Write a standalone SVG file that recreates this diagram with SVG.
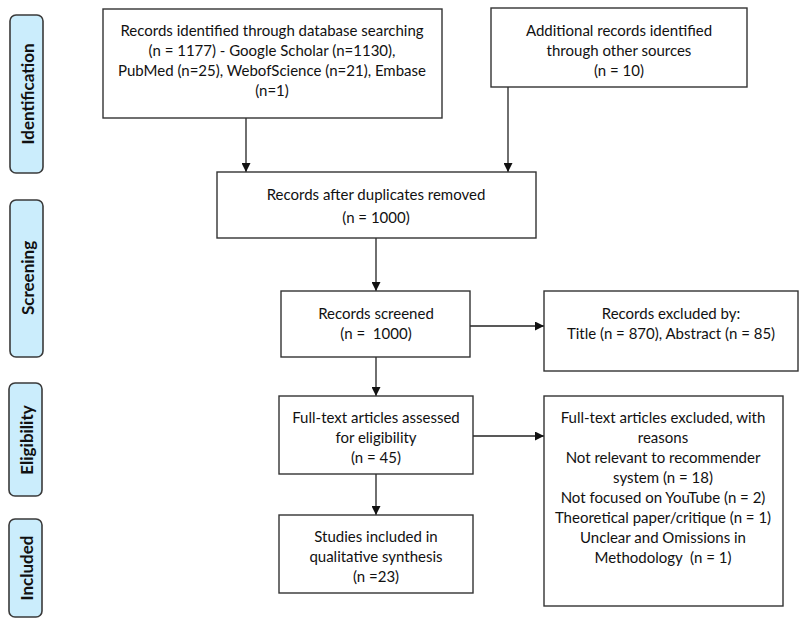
<svg xmlns="http://www.w3.org/2000/svg" width="800" height="634" viewBox="0 0 800 634">
<style>
.bg{fill:#ffffff}
.stage rect{fill:#cbedfc;stroke:#3a3a3a;stroke-width:1.6}
.stage text{font-family:Lato,"Liberation Sans",sans-serif;font-size:17px;font-weight:bold;fill:#111;text-anchor:middle;dominant-baseline:central}
.box rect{fill:#ffffff;stroke:#333;stroke-width:1.4}
.box text{font-family:Lato,"Liberation Sans",sans-serif;font-size:15px;fill:#111;text-anchor:middle;dominant-baseline:central;white-space:pre}
#connectors line{stroke:#222;stroke-width:1.3;fill:none}
</style>
<defs>
<marker id="ah" viewBox="0 0 10 10" refX="10" refY="5" markerWidth="9" markerHeight="9" markerUnits="userSpaceOnUse" orient="auto">
<path d="M0,0 L10,5 L0,10 Z" fill="#111"/>
</marker>
</defs>
<rect class="bg" x="0" y="0" width="800" height="634"/>

<g id="stage-identification" class="stage"><rect x="10" y="15" width="33" height="158" rx="6"/><text transform="translate(27,94) rotate(-90)">Identification</text></g>
<g id="stage-screening" class="stage"><rect x="10" y="200" width="33" height="157" rx="6"/><text transform="translate(27,278) rotate(-90)">Screening</text></g>
<g id="stage-eligibility" class="stage"><rect x="9" y="383" width="33" height="113" rx="6"/><text transform="translate(26,440) rotate(-90)">Eligibility</text></g>
<g id="stage-included" class="stage"><rect x="9" y="519" width="33" height="98" rx="6"/><text transform="translate(26,568) rotate(-90)">Included</text></g>

<g id="connectors">
<line x1="246" y1="118" x2="246" y2="172" marker-end="url(#ah)"/>
<line x1="508" y1="87" x2="508" y2="172" marker-end="url(#ah)"/>
<line x1="376" y1="238" x2="376" y2="291" marker-end="url(#ah)"/>
<line x1="470" y1="326" x2="544" y2="326" marker-end="url(#ah)"/>
<line x1="376" y1="357" x2="376" y2="396" marker-end="url(#ah)"/>
<line x1="473" y1="436" x2="544" y2="436" marker-end="url(#ah)"/>
<line x1="376" y1="474" x2="376" y2="515" marker-end="url(#ah)"/>
</g>

<g id="n-database" class="box"><rect x="103" y="9" width="339" height="109"/>
<text x="272" y="30">Records identified through database searching</text>
<text x="272" y="50">(n = 1177) - Google Scholar (n=1130),</text>
<text x="272" y="70">PubMed (n=25), WebofScience (n=21), Embase</text>
<text x="272" y="90">(n=1)</text></g>

<g id="n-other" class="box"><rect x="491" y="8" width="256" height="79"/>
<text x="619" y="30">Additional records identified</text>
<text x="619" y="50">through other sources</text>
<text x="619" y="70">(n = 10)</text></g>

<g id="n-duplicates" class="box"><rect x="217" y="172" width="319" height="66"/>
<text x="376" y="194">Records after duplicates removed</text>
<text x="376" y="217">(n = 1000)</text></g>

<g id="n-screened" class="box"><rect x="281" y="291" width="189" height="66"/>
<text x="376" y="313">Records screened</text>
<text x="376" y="333" xml:space="preserve">(n =  1000)</text></g>

<g id="n-excluded" class="box"><rect x="544" y="291" width="254" height="80"/>
<text x="671" y="313">Records excluded by:</text>
<text x="671" y="333">Title (n = 870), Abstract (n = 85)</text></g>

<g id="n-fulltext" class="box"><rect x="279" y="396" width="194" height="78"/>
<text x="376" y="417">Full-text articles assessed</text>
<text x="376" y="437">for eligibility</text>
<text x="376" y="457">(n = 45)</text></g>

<g id="n-ftexcluded" class="box"><rect x="544" y="396" width="239" height="210"/>
<text x="663" y="417">Full-text articles excluded, with</text>
<text x="663" y="437">reasons</text>
<text x="663" y="457">Not relevant to recommender</text>
<text x="663" y="477">system (n = 18)</text>
<text x="663" y="497">Not focused on YouTube (n = 2)</text>
<text x="663" y="517">Theoretical paper/critique (n = 1)</text>
<text x="663" y="537">Unclear and Omissions in</text>
<text x="663" y="557" xml:space="preserve">Methodology  (n = 1)</text></g>

<g id="n-included" class="box"><rect x="279" y="515" width="194" height="78"/>
<text x="376" y="536">Studies included in</text>
<text x="376" y="556">qualitative synthesis</text>
<text x="376" y="576">(n =23)</text></g>
</svg>
